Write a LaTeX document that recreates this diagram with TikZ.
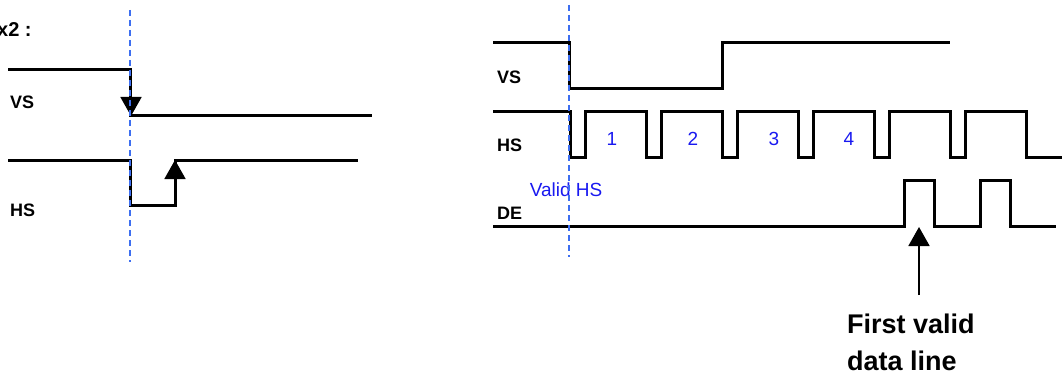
\documentclass[tikz,border=0pt]{standalone}
\usepackage{fontspec}
\setmainfont{Liberation Sans}
\usetikzlibrary{arrows.meta,calc}
\definecolor{MarkClr}{rgb}{0.24,0.43,0.94}
\definecolor{CountClr}{rgb}{0.1,0.1,0.94}

\tikzset{
  wave/.style={line width=3pt,line join=miter,black},
  edgearrow/.style={line width=1.8pt,-{Triangle[length=19pt,width=21pt]}},
  markline/.style={MarkClr,line width=1.3pt,dash pattern=on 6pt off 4pt},
  siglabel/.style={font=\bfseries\fontsize{18}{18}\selectfont,anchor=west,inner sep=0pt},
  countlabel/.style={CountClr,font=\fontsize{19}{19}\selectfont,inner sep=0pt}
}

\begin{document}
\begin{tikzpicture}[x=1pt,y=-1pt]
\useasboundingbox (0,0) rectangle (1062,385);

% left picture
\node[siglabel,font=\bfseries\fontsize{20}{20}\selectfont] (title) at (-3,30) {x2 :};
\node[siglabel] (vsA) at (10,102) {VS};
\node[siglabel] (hsA) at (10,210) {HS};

\draw[wave] (8,70) -- (130,70) -- (130,116) -- (372,116);
\draw[wave] (8,160) -- (130,160) -- (130,205) -- (175,205) -- (175,160) -- (358,160);
\draw[edgearrow] (131,90) -- (131,116);
\draw[edgearrow] (175,190) -- (175,160);

\draw[markline] (130,10) -- (130,262);

% right picture
\node[siglabel] (vsB) at (497,77) {VS};
\node[siglabel] (hsB) at (497,145) {HS};
\node[siglabel] (deB) at (497,213) {DE};

\draw[wave] (493,43) -- (569,43) -- (569,89) -- (722,89) -- (722,43) -- (950,43);
\draw[wave] (493,112)
  foreach \x in {570,646,...,950} { -- (\x,112) -- (\x,157) -- (\x+15,157) -- (\x+15,112) }
  -- (1026,112) -- (1026,157) -- (1062,157);
\draw[wave] (493,226) -- (904,226) -- (904,180) -- (934,180) -- (934,226)
  -- (980,226) -- (980,180) -- (1010,180) -- (1010,226) -- (1056,226);

\foreach \n/\x in {1/612,2/693,3/774,4/849}
  \node[countlabel] (cnt\n) at (\x,139) {\n};
\node[countlabel] (valid) at (566,190) {Valid HS};

\draw[markline] (569,5) -- (569,257);

\coordinate (arrowfoot) at (919,295);
\coordinate (arrowtip) at (919,227);
\draw[edgearrow] (arrowfoot) -- (arrowtip);
\node[font=\bfseries\fontsize{27}{37}\selectfont,align=left,anchor=north west,inner sep=0pt] (first) at (847,314) {First valid\\data line};

\end{tikzpicture}
\end{document}
